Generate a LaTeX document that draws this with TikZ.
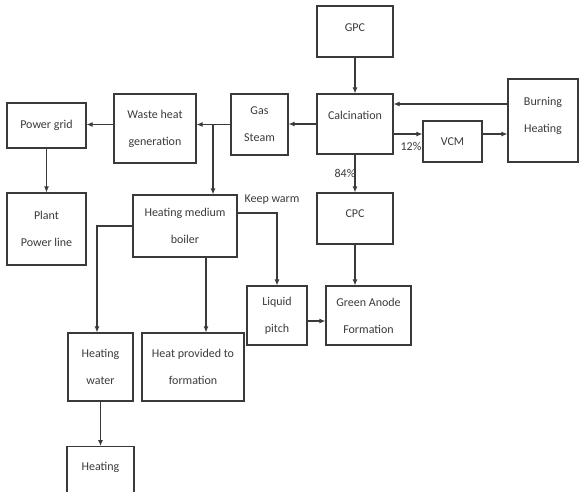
\documentclass[tikz,border=0pt]{standalone}
\usepackage{fontspec}
\setmainfont{Carlito}
\usetikzlibrary{arrows.meta,positioning}
\definecolor{inkgray}{HTML}{3A3A3A}

\begin{document}
\begin{tikzpicture}[x=1pt, y=-1pt,
    unitbox/.style={draw=inkgray, line width=1.1pt, inner sep=0pt, align=center,
        text=inkgray, font=\fontsize{12}{27}\selectfont},
    flow/.style={draw=inkgray, line width=1.1pt, -{Latex[length=6pt,width=5pt]}},
    tag/.style={text=inkgray, font=\fontsize{12}{13}\selectfont, inner sep=0pt}]

\useasboundingbox (0,0) rectangle (580,491);

% ============================
\node[unitbox, minimum width=76, minimum height=51, text height=25pt, text depth=26pt] (gpc) at (355,31.5) {GPC};
\node[unitbox, minimum width=76, minimum height=60, text height=25pt, text depth=35pt] (calc) at (355,124) {Calcination};
\node[unitbox, minimum width=59, minimum height=41] (vcm) at (452.5,141.5) {VCM};
\node[unitbox, minimum width=70, minimum height=83] (burn) at (543,120.5) {Burning\\Heating\\[-15pt]\mbox{}};
\node[unitbox, minimum width=76, minimum height=51, text height=24pt, text depth=27pt] (cpc) at (355,218.5) {CPC};

% ============================
\node[unitbox, minimum width=57, minimum height=61] (gas) at (259.5,124.5) {Gas\\Steam};
\node[unitbox, minimum width=82, minimum height=69] (waste) at (155,128.5) {Waste heat\\generation};
\node[unitbox, minimum width=79, minimum height=45] (grid) at (46.5,125.5) {Power grid};
\node[unitbox, minimum width=79, minimum height=72] (plant) at (46.5,229) {Plant\\Power line};

% ============================
\node[unitbox, minimum width=104, minimum height=62] (boiler) at (185,226) {Heating medium\\boiler};
\node[unitbox, minimum width=60, minimum height=59] (pitch) at (277,315.5) {Liquid\\pitch};
\node[unitbox, minimum width=85, minimum height=59] (anode) at (368.5,315.5) {Green Anode\\Formation};
\node[unitbox, minimum width=65, minimum height=68] (water) at (100.5,367) {Heating\\water};
\node[unitbox, minimum width=102, minimum height=68] (heatform) at (193,367) {Heat provided to\\formation};
\node[unitbox, anchor=north, minimum width=67, text height=24pt, text depth=50pt] (heating) at (100.5,446) {Heating};

% ============================
\coordinate (burnin) at ([yshift=16.5pt]burn.west);
\coordinate (calcout) at ([yshift=-10pt]calc.east);
\coordinate (split) at (213,124.5);
\coordinate (keep) at ([yshift=13pt]boiler.east);
\coordinate (wdrop) at ([xshift=-3.5pt]water.north);
\coordinate (hdrop) at ([xshift=13pt]heatform.north);
\coordinate (pitchout) at ([yshift=-5.5pt]pitch.east);

\draw[flow] (gpc) -- (calc);
\draw[flow] (burnin) -- (burnin -| calc.east);
\draw[flow] (calcout) -- (calcout -| vcm.west);
\draw[flow] (calcout -| vcm.east) -- (calcout -| burn.west);
\draw[flow] (calc.west) -- (calc.west -| gas.east);
\draw[flow] (gas.west) -- (gas.west -| waste.east);
\draw[flow] (split) -- (split |- boiler.north);
\draw[flow] (gas.west -| waste.west) -- (gas.west -| grid.east);
\draw[flow] (grid) -- (plant);
\draw[flow] (calc) -- (cpc);
\draw[flow] (cpc.south) -- (cpc.south |- anode.north);
\draw[flow] (keep) -| (pitch.north);
\draw[flow] (pitchout) -- (pitchout -| anode.west);
\draw[flow] (boiler.west) -| (wdrop);
\draw[flow] (hdrop |- boiler.south) -- (hdrop);
\draw[flow] (water) -- (heating);

% ============================
\node[tag] (pct12) at (411,146) {12\%};
\node[tag] (pct84) at (345,173) {84\%};
\node[tag] (warm) at (272,200) {Keep warm};

\end{tikzpicture}
\end{document}
